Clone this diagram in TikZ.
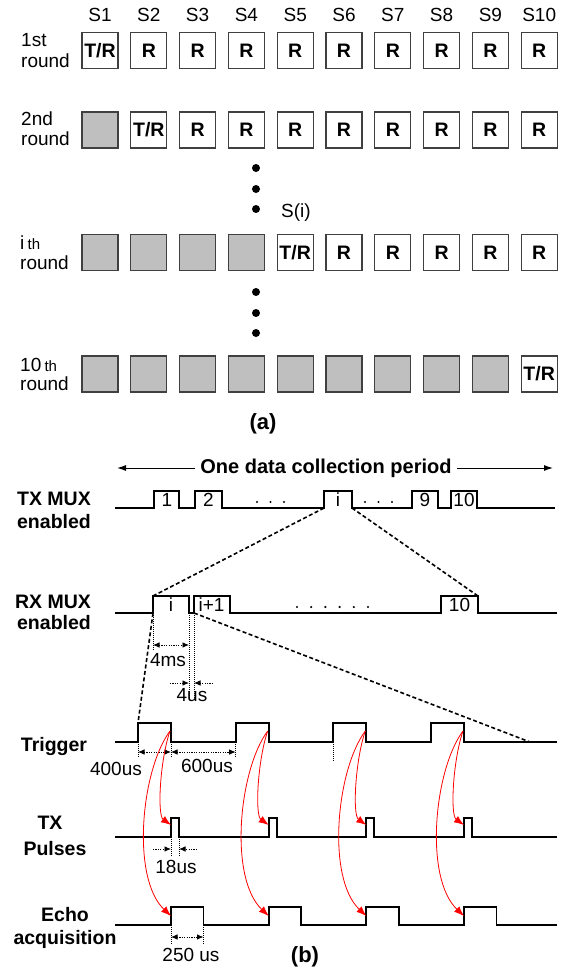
\documentclass[tikz,border=0pt]{standalone}
\usepackage{fontspec}
\setmainfont{Liberation Sans}
\usetikzlibrary{arrows.meta}

\begin{document}
\begin{tikzpicture}[x=1pt,y=-1pt,
  cell/.style={draw=black!75, line width=1.2pt, minimum size=36pt, inner sep=0pt,
    font=\fontsize{19.5}{20}\selectfont\bfseries},
  offcell/.style={cell, fill=black!25},
  lbl/.style={inner sep=0pt, font=\fontsize{19}{20}\selectfont},
  blbl/.style={inner sep=0pt, font=\fontsize{19.5}{20}\selectfont\bfseries},
  figcap/.style={inner sep=0pt, font=\fontsize{22}{24}\selectfont\bfseries},
  sig/.style={line width=1.8pt, line join=miter},
  zoomline/.style={dash pattern=on 4pt off 2.5pt, line width=1.6pt},
  ext/.style={dash pattern=on 1pt off 1pt, line width=0.7pt},
  dimo/.style={dash pattern=on 1.2pt off 1.2pt, line width=0.9pt, {Latex[length=6.5pt,width=5.5pt]}-{Latex[length=6.5pt,width=5.5pt]}},
  dimi/.style={dash pattern=on 1.2pt off 1.2pt, line width=0.9pt, -{Latex[length=6.5pt,width=5.5pt]}},
  cause/.style={red, line width=0.8pt, -{Latex[length=10pt,width=7.5pt]}},
  spanarrow/.style={line width=1pt, -{Latex[length=9pt,width=6pt]}},
]
\useasboundingbox (0,0) rectangle (571,975);

% ---------------- (a) sensor roles per round ----------------
\foreach \k in {1,...,10}
  \node[lbl] (s\k) at ({100+48.8*(\k-1)},15) {S\k};

\foreach \row/\t/\yy in {a/1/50.5, b/2/130, c/5/252.5, d/10/374} {
  \foreach \k in {1,...,10} {
    \ifnum\k<\t
      \node[offcell] (\row\k) at ({100+48.8*(\k-1)},\yy) {};
    \else\ifnum\k=\t
      \node[cell] (\row\k) at ({100+48.8*(\k-1)},\yy) {T/R};
    \else
      \node[cell] (\row\k) at ({100+48.8*(\k-1)},\yy) {R};
    \fi\fi
  }
}

\node[lbl, anchor=west] (ra1) at (21,40.5) {1st};
\node[lbl, anchor=west] (ra2) at (21,60.5) {round};
\node[lbl, anchor=west] (rb1) at (21,119) {2nd};
\node[lbl, anchor=west] (rb2) at (21,139) {round};
\node[lbl, anchor=west] (rc1) at (20,243) {i\,{\fontsize{15}{15}\selectfont th}};
\node[lbl, anchor=west] (rc2) at (20,263) {round};
\node[lbl, anchor=west] (rd1) at (20,365) {10\,{\fontsize{15}{15}\selectfont th}};
\node[lbl, anchor=west] (rd2) at (20,384) {round};

\node[lbl] (si) at (296,213) {S(i)};

\foreach \yy in {168,189,209,292,313,333}
  \fill (256,\yy) circle (4pt);

\node[figcap] (capa) at (263,424) {(a)};

% ---------------- (b) timing ----------------
\node[inner sep=0pt, font=\fontsize{20}{22}\selectfont\bfseries] (period) at (326,468) {One data collection period};
\coordinate (pl) at (117,468);
\coordinate (pr) at (553,468);
\draw[spanarrow] ([xshift=-5pt]period.west) -- (pl);
\draw[spanarrow] ([xshift=5pt]period.east) -- (pr);

% TX MUX
\node[blbl] (txm1) at (54,499) {TX MUX};
\node[blbl] (txm2) at (54,522) {enabled};
\draw[sig] (115,508) -| (154,491) -| (179,508) -| (195,491) -| (222,508)
  -| (324,491) -| (352,508) -| (412,491) -| (438,508) -| (451,491) -| (477,508) -- (555,508);
\node[lbl] (p1) at (167,500) {1};
\node[lbl] (p2) at (208.5,500) {2};
\node[lbl] (pi) at (338,500) {i};
\node[lbl] (p9) at (425,500) {9};
\node[lbl] (p10) at (464,500) {10};
\foreach \xx in {257,270.5,284,365,378.5,392}
  \fill (\xx,502) circle (1.2pt);

% RX MUX
\node[blbl] (rxm1) at (53,602) {RX MUX};
\node[blbl] (rxm2) at (54,623) {enabled};
\draw[sig] (115,613) -| (153,596) -| (189,613) -| (194,596) -| (230,613)
  -| (441,596) -| (478,613) -- (557,613);
\node[lbl] (q1) at (171,605) {i};
\node[lbl] (q2) at (211.5,605) {i+1};
\node[lbl] (q10) at (459.5,605) {10};
\foreach \xx in {297,311.2,325.4,339.6,353.8,368}
  \fill (\xx,607) circle (1.2pt);

% zoom-in guides
\coordinate (txiL) at (324,508);
\coordinate (txiR) at (352,508);
\coordinate (rxiL) at (153,596);
\coordinate (rxTR) at (478,596);
\coordinate (rxiB) at (153,613);
\coordinate (rxnB) at (194,613);
\coordinate (trgL) at (138,723);
\coordinate (trgE) at (530,742);
\draw[zoomline] (txiL) -- (rxiL);
\draw[zoomline] (txiR) -- (rxTR);
\draw[zoomline] (rxiB) -- (trgL);
\draw[zoomline] (rxnB) -- (trgE);

% 4ms / 4us
\draw[ext] (153,613) -- (153,650);
\draw[ext] (189,613) -- (189,700);
\draw[ext] (194,613) -- (194,700);
\draw[dimo] (153,645) -- (189,645);
\draw[dimi] (170,683) -- (189,683);
\draw[dimi] (213,683) -- (194,683);
\node[lbl] (d4ms) at (168,660) {4ms};
\node[lbl] (d4us) at (192,695) {4us};

% Trigger, TX pulses, echo acquisition
\node[blbl] (trg) at (54,746) {Trigger};
\node[blbl] (txp1) at (50,823) {TX};
\node[blbl] (txp2) at (55,849) {Pulses};
\node[blbl] (ech1) at (65,915) {Echo};
\node[blbl] (ech2) at (65,939) {acquisition};

\draw[sig] (115,742) foreach \r in {138,235.7,333.3,431} { -| (\r,723) -| (\r+33,742) } -- (557,742);
\draw[sig] (115,837) foreach \r in {171,268.7,366.3,464} { -| (\r,818) -| (\r+8,837) } -- (557,837);
\draw[sig] (115,925) foreach \r in {171,268.7,366.3,464} { -| (\r,907) -| (\r+32.5,925) } -- (557,925);

% 400us / 600us
\draw[ext] (138,742) -- (138,757);
\draw[ext] (171,742) -- (171,757);
\draw[ext] (235.7,742) -- (235.7,757);
\draw[ext] (333.3,742) -- (333.3,761);
\draw[dimo] (138,752) -- (171,752);
\draw[dimo] (171,752) -- (235.7,752);
\node[lbl] (d400) at (116,769) {400us};
\node[lbl] (d600) at (207,766) {600us};

% 18us
\draw[ext] (171,837) -- (171,856);
\draw[ext] (179,837) -- (179,856);
\draw[dimi] (153,849) -- (171,849);
\draw[dimi] (197,849) -- (179,849);
\node[lbl] (d18) at (176,867) {18us};

% 250 us
\draw[ext] (171,925) -- (171,944);
\draw[ext] (203.5,925) -- (203.5,944);
\draw[dimo] (171,937) -- (203.5,937);
\node[lbl] (d250) at (191,955) {250 us};

% trigger -> pulse -> echo causality
\foreach \f [count=\j] in {171,268.7,366.3,464} {
  \coordinate (src\j) at (\f-1,731);
  \coordinate (tx\j) at (\f,825);
  \coordinate (ec\j) at (\f,916);
  \draw[cause] (src\j) .. controls (\f-11,760) and (\f-14,815) .. (tx\j);
  \draw[cause] (src\j) .. controls (\f-30,770) and (\f-40,878) .. (ec\j);
}

\node[figcap] (capb) at (305,957) {(b)};
\end{tikzpicture}
\end{document}
